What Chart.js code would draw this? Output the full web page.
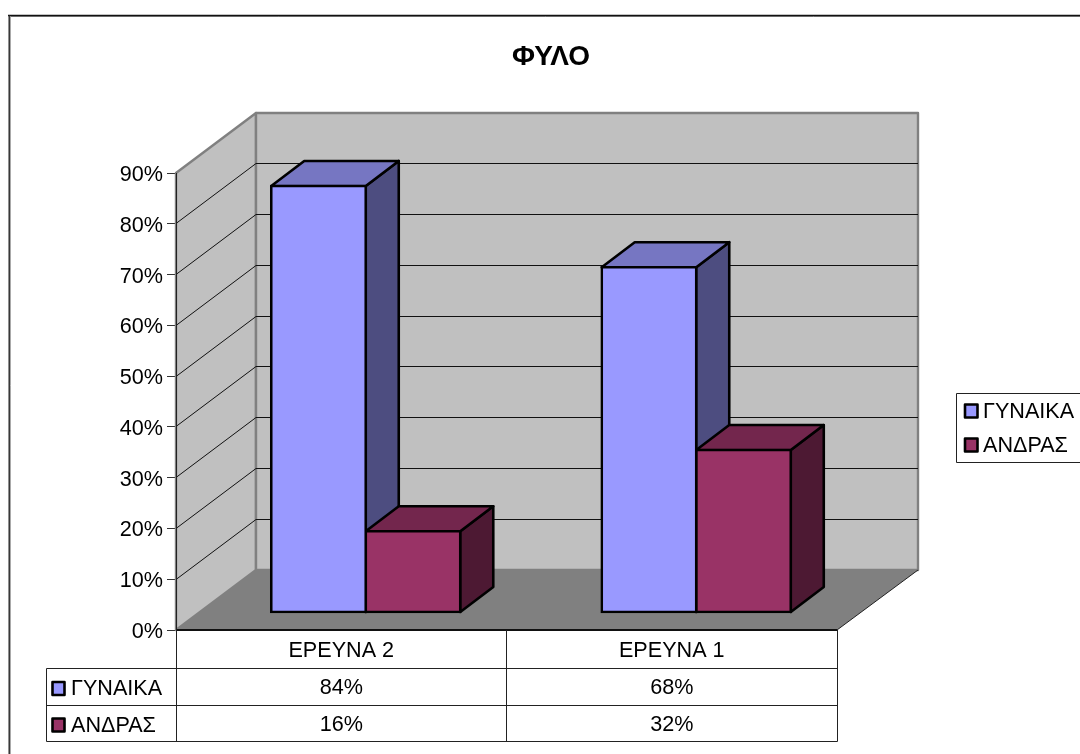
<!DOCTYPE html>
<html>
<head>
<meta charset="utf-8">
<style>html,body{margin:0;padding:0;background:#fff;overflow:hidden}canvas{display:block}</style>
<script src="https://cdn.jsdelivr.net/npm/chart.js@4/dist/chart.umd.js"></script>
</head>
<body>
<canvas id="c" width="1080" height="754"></canvas>
<script>
const chartTitle = 'ΦΥΛΟ';
const categories = ['ΕΡΕΥΝΑ 2', 'ΕΡΕΥΝΑ 1'];
const seriesNames = ['ΓΥΝΑΙΚΑ', 'ΑΝΔΡΑΣ'];
const womenValues = [84, 68];
const menValues = [16, 32];
const yMax = 90;
const yStep = 10;

const FONT = '"Liberation Sans", Arial, sans-serif';
const SIZE = 21.6;
const front = ['#9999FF', '#993366'];
const topFace = ['#7676C2', '#73264D'];
const sideFace = ['#4D4D80', '#4D1933'];

const WALL = {dx: 80, dy: -60};
const BAR_SHIFT = {dx: 24.5, dy: -17.5};
const BAR_DEPTH = {dx: 33, dy: -25};
const BAR_STROKE = 2.6;

function poly(ctx, pts, fill, stroke, lw) {
  ctx.beginPath();
  pts.forEach((p, i) => i ? ctx.lineTo(p[0], p[1]) : ctx.moveTo(p[0], p[1]));
  ctx.closePath();
  if (fill) { ctx.fillStyle = fill; ctx.fill(); }
  if (stroke) { ctx.strokeStyle = stroke; ctx.lineWidth = lw; ctx.lineJoin = 'round'; ctx.stroke(); }
}
function line(ctx, x1, y1, x2, y2, color, lw) {
  ctx.beginPath(); ctx.moveTo(x1, y1); ctx.lineTo(x2, y2);
  ctx.strokeStyle = color; ctx.lineWidth = lw; ctx.stroke();
}

const scene3d = {
  id: 'scene3d',
  afterLayout(chart) {
    chart.titleBlock.left += 132.5;
    chart.titleBlock.right += 132.5;
  },
  beforeDraw(chart) {
    const ctx = chart.ctx;
    chart.scales.y.getLabelItems(chart.chartArea).forEach(item => { item.textOffset += 2; });
    ctx.save();
    ctx.fillStyle = '#fff'; ctx.fillRect(0, 0, chart.width, chart.height);
    line(ctx, 10.5, 16.5, 1085, 16.5, '#888', 1);
    line(ctx, 10.5, 16.5, 10.5, 760, '#aaa', 1);
    line(ctx, 8, 15.5, 1085, 15.5, '#111', 1.4);
    line(ctx, 9.2, 15, 9.2, 760, '#222', 1.4);
    ctx.restore();
  },
  beforeDatasetsDraw(chart) {
    const ctx = chart.ctx, a = chart.chartArea, y = chart.scales.y;
    const L = a.left, R = a.right, T = a.top, B = a.bottom;
    const bl = L + WALL.dx, br = R + WALL.dx + 1, bt = T + WALL.dy, bb = B + WALL.dy;
    ctx.save();
    poly(ctx, [[L, T], [bl, bt], [bl, bb], [L, B]], '#C0C0C0', '#808080', 2.4);
    poly(ctx, [[bl, bt], [br, bt], [br, bb], [bl, bb]], '#C0C0C0', '#808080', 2.4);
    y.ticks.forEach(t => {
      const py = Math.floor(y.getPixelForValue(t.value)) + 0.5;
      if (t.value > 0 && t.value < yMax) {
        line(ctx, L, py, bl, py + WALL.dy, '#111', 1);
        line(ctx, bl, py + WALL.dy, br, py + WALL.dy, '#111', 1);
      }
    });
    poly(ctx, [[L, B], [bl, bb], [br, bb], [R, B]], '#808080');
    line(ctx, bl, bb, br, bb, '#808080', 2);
    line(ctx, R, B, br, bb, '#222', 1);
    line(ctx, L, B, R, B, '#111', 2);
    line(ctx, L + 0.5, T, L + 0.5, B, '#222', 1);
    ctx.restore();
    ctx.save();
    ctx.translate(BAR_SHIFT.dx, BAR_SHIFT.dy);
    // depth faces first, so that each later front face covers what it should
    [0, 1].forEach(i => {
      chart.getDatasetMeta(i).data.forEach(el => {
        const l = el.x - el.width / 2, r = el.x + el.width / 2, t = el.y, b = el.base;
        const d = BAR_DEPTH;
        poly(ctx, [[r, t], [r + d.dx, t + d.dy], [r + d.dx, b + d.dy], [r, b]], sideFace[i], '#000', BAR_STROKE);
        poly(ctx, [[l, t], [l + d.dx, t + d.dy], [r + d.dx, t + d.dy], [r, t]], topFace[i], '#000', BAR_STROKE);
      });
    });
  },
  afterDatasetsDraw(chart) { chart.ctx.restore(); },
  afterDraw(chart) {
    const ctx = chart.ctx, a = chart.chartArea, x = chart.scales.x;
    const tl = 46.5, mid = x.left + 0.5, right = a.right + 0.5;
    const r0 = 668.5, r1 = 705.5, r2 = 741.5;
    const centre = Math.floor((a.left + a.right) / 2) + 0.5;
    ctx.save();
    // data table
    line(ctx, mid, a.bottom, mid, r2, '#222', 1);
    line(ctx, centre, a.bottom, centre, r2, '#222', 1);
    line(ctx, right, a.bottom, right, r2, '#222', 1);
    line(ctx, tl, r0, right, r0, '#222', 1);
    line(ctx, tl, r1, right, r1, '#222', 1);
    line(ctx, tl, r2, right, r2, '#222', 1);
    line(ctx, tl, r0, tl, r2, '#222', 1);
    ctx.font = SIZE + 'px ' + FONT;
    ctx.textBaseline = 'middle';
    const rows = [[womenValues, 688.5], [menValues, 725]];
    rows.forEach((row, i) => {
      poly(ctx, [[52.5, row[1] - 6.5], [64.5, row[1] - 6.5], [64.5, row[1] + 6.5], [52.5, row[1] + 6.5]], front[i], '#000', 2.6);
      ctx.textAlign = 'left';
      ctx.fillStyle = '#000';
      ctx.fillText(seriesNames[i], 71, row[1] + 1);
      ctx.textAlign = 'center';
      row[0].forEach((v, j) => ctx.fillText(v + '%', x.getPixelForValue(j), row[1]));
    });
    // legend
    line(ctx, 956.5, 393.5, 1085, 393.5, '#222', 1);
    line(ctx, 956.5, 462.5, 1085, 462.5, '#222', 1);
    line(ctx, 956.5, 393.5, 956.5, 462.5, '#222', 1);
    [411, 445].forEach((ly, i) => {
      poly(ctx, [[965, ly - 6.5], [977.5, ly - 6.5], [977.5, ly + 6.5], [965, ly + 6.5]], front[i], '#000', 2.6);
      ctx.textAlign = 'left';
      ctx.fillStyle = '#000';
      ctx.fillText(seriesNames[i], 983, ly + 1);
    });
    ctx.restore();
  }
};

new Chart(document.getElementById('c'), {
  type: 'bar',
  data: {
    labels: categories,
    datasets: [
      {label: seriesNames[0], data: womenValues, backgroundColor: front[0], borderColor: '#000', borderWidth: BAR_STROKE, borderSkipped: false, inflateAmount: BAR_STROKE / 2, clip: false},
      {label: seriesNames[1], data: menValues, backgroundColor: front[1], borderColor: '#000', borderWidth: BAR_STROKE, borderSkipped: false, inflateAmount: BAR_STROKE / 2, clip: false}
    ]
  },
  options: {
    responsive: false,
    animation: false,
    events: [],
    layout: {padding: {left: 0, right: 243, top: 40.2, bottom: 0}},
    datasets: {bar: {barPercentage: 1, categoryPercentage: 0.572}},
    plugins: {
      legend: {display: false},
      tooltip: {enabled: false},
      title: {
        display: true,
        text: chartTitle,
        color: '#000',
        font: {family: FONT, size: 28, weight: 'bold', lineHeight: 1.2},
        padding: {top: 0, bottom: 99.2}
      }
    },
    scales: {
      x: {
        afterFit(s) { s.height = 124; },
        grid: {display: false},
        border: {display: false},
        ticks: {color: '#000', font: {family: FONT, size: SIZE}, padding: 0, maxRotation: 0}
      },
      y: {
        min: 0, max: yMax,
        afterFit(s) { s.width = 176; },
        grid: {drawOnChartArea: false, drawTicks: true, tickLength: 9, color: '#333'},
        border: {display: false},
        ticks: {stepSize: yStep, color: '#000', font: {family: FONT, size: SIZE}, padding: 4, callback: v => v + '%'}
      }
    }
  },
  plugins: [scene3d]
});
</script>
</body>
</html>
